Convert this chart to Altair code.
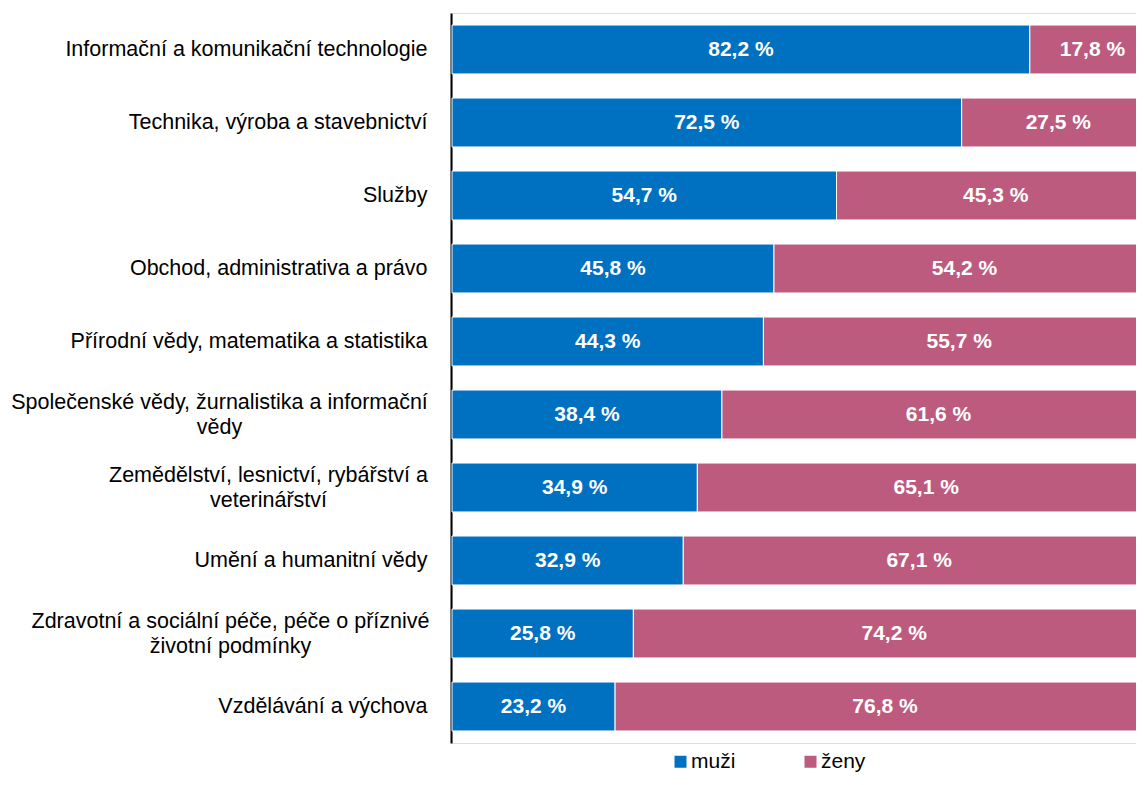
import altair as alt
import pandas as pd

categories = [
    "Informační a komunikační technologie",
    "Technika, výroba a stavebnictví",
    "Služby",
    "Obchod, administrativa a právo",
    "Přírodní vědy, matematika a statistika",
    "Společenské vědy, žurnalistika a informační\nvědy",
    "Zemědělství, lesnictví, rybářství a\nveterinářství",
    "Umění a humanitní vědy",
    "Zdravotní a sociální péče, péče o příznivé\nživotní podmínky",
    "Vzdělávání a výchova",
]
muzi = [82.2, 72.5, 54.7, 45.8, 44.3, 38.4, 34.9, 32.9, 25.8, 23.2]
zeny = [17.8, 27.5, 45.3, 54.2, 55.7, 61.6, 65.1, 67.1, 74.2, 76.8]
groups = ["muži", "ženy"]
colors = ["#0070C0", "#BD5B7E"]

rows = []
for c, m, z in zip(categories, muzi, zeny):
    rows.append(dict(obor=c, pohlavi=groups[0], podil=m, start=0.0, end=m))
    rows.append(dict(obor=c, pohlavi=groups[1], podil=z, start=m, end=m + z))
df = pd.DataFrame(rows)
df["lbl"] = df["podil"].map(lambda v: f"{v:.1f}".replace(".", ",") + " %")

FONT = "Liberation Sans"
MULTI = "indexof(datum.value, '\\n') >= 0"

y_enc = alt.Y(
    "obor:N",
    sort=categories,
    scale=alt.Scale(paddingInner=0.33, paddingOuter=0.165),
    axis=alt.Axis(
        title=None,
        domain=True,
        domainColor="#000000",
        domainWidth=2,
        ticks=False,
        grid=False,
        offset=1,
        labelFont=FONT,
        labelFontSize=21.5,
        labelColor="#000000",
        labelLimit=0,
        labelLineHeight=25,
        labelExpr="split(datum.label, '\\n')",
        labelAlign={"condition": {"test": MULTI, "value": "center"}, "value": "right"},
        labelOffset={"condition": {"test": MULTI, "value": -12}, "value": 0},
        labelPadding={
            "condition": [
                {"test": "indexof(datum.value, 'Společenské') === 0", "value": 232},
                {"test": "indexof(datum.value, 'Zemědělství') === 0", "value": 183},
                {"test": "indexof(datum.value, 'Zdravotní') === 0", "value": 221},
            ],
            "value": 24,
        },
    ),
)

base = alt.Chart(df)

# the visible plot is cut at the right edge of the page: 100 % lies beyond it
bars = base.mark_bar(stroke="white", strokeWidth=1).encode(
    x=alt.X("start:Q", scale=alt.Scale(domain=[0, 97.3], nice=False, zero=True), axis=None),
    x2="end:Q",
    y=y_enc,
    color=alt.Color(
        "pohlavi:N",
        scale=alt.Scale(domain=groups, range=colors),
        legend=alt.Legend(
            title=None,
            orient="none",
            legendX=218,
            legendY=738,
            direction="horizontal",
            symbolType="square",
            symbolSize=144,
            symbolStrokeWidth=0,
            labelFont=FONT,
            labelFontSize=21,
            labelColor="#000000",
            labelOffset=0,
            columnPadding=64,
            padding=0,
        ),
    ),
)

texts = base.mark_text(
    color="white", font=FONT, fontSize=21, fontWeight="bold", baseline="middle", align="center"
).transform_calculate(mid="(datum.start + datum.end) / 2").encode(
    x=alt.X("mid:Q"),
    y=alt.Y("obor:N", sort=categories),
    text="lbl:N",
)

chart = (
    alt.layer(bars, texts)
    .properties(
        width=684,
        height=730,
        autosize=alt.AutoSizeParams(type="none"),
        padding={"left": 444, "top": 5, "right": 0, "bottom": 30},
    )
    .configure_view(stroke=None)
    .configure(background="white")
)

chart.save("out.html", embed_options={"renderer": "svg", "actions": False})
